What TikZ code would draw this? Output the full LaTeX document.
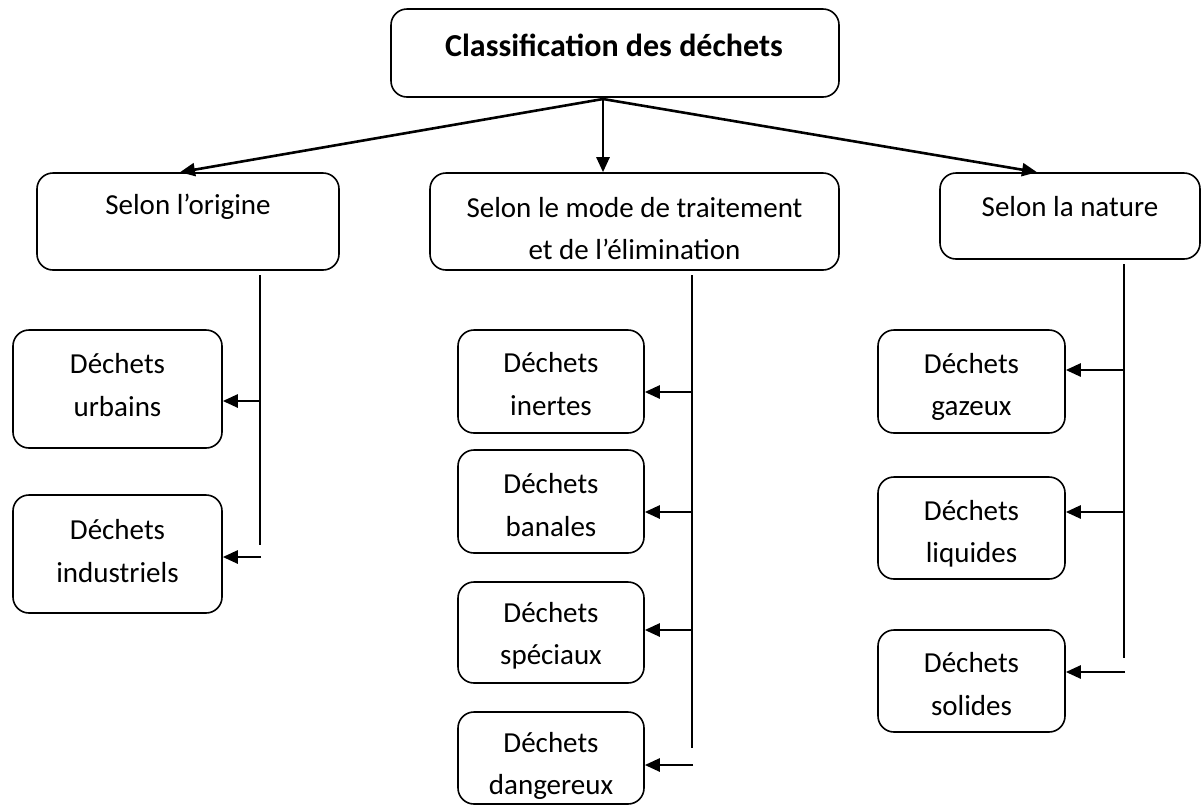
\documentclass[tikz,border=0pt]{standalone}
\usepackage{fontspec}
\setmainfont{Carlito}
\usetikzlibrary{arrows.meta}
\begin{document}
\begin{tikzpicture}[x=1pt,y=-1pt,
  box/.style={draw, line width=1.6pt, rounded corners=16pt, inner sep=0pt},
  txt/.style={align=center, font=\fontsize{29}{42.5}\selectfont, inner sep=0pt},
  arr/.style={line width=2.6pt, -{Triangle[length=15pt,width=13pt]}},
  vline/.style={line width=1.6pt}]
\useasboundingbox (0,0) rectangle (1202,807);

% top level
\node[box, minimum width=448pt, minimum height=88pt] (top) at (615,53) {};
\node[txt, font=\fontsize{32}{38}\selectfont\bfseries] (ttl) at (614,45) {Classification des déchets};

% second level
\node[box, minimum width=302pt, minimum height=97pt] (l1) at (188,221.5) {};
\node[txt] (t1) at (188,207) {Selon l’origine};
\node[box, minimum width=409pt, minimum height=97pt] (l2) at (634.5,221.5) {};
\node[txt] (t2) at (634.5,228.5) {Selon le mode de traitement\\et de l’élimination};
\node[box, minimum width=260pt, minimum height=86pt] (l3) at (1070,216) {};
\node[txt] (t3) at (1070,207) {Selon la nature};

% top arrows
\coordinate (o) at (603,99);
\coordinate (xl) at (180,0);
\coordinate (xr) at (1037,0);
\draw[arr] (o) -- (l1.north -| xl);
\draw[arr] (o) -- (l2.north -| o);
\draw[arr] (o) -- (l3.north -| xr);

% left column
\node[box, minimum width=209pt, minimum height=118pt] (u) at (117.5,389) {};
\node[txt] (tu) at (117.5,385) {Déchets\\urbains};
\node[box, minimum width=209pt, minimum height=118pt] (ind) at (117.5,554) {};
\node[txt] (tind) at (117.5,551) {Déchets\\industriels};
\coordinate (v1a) at (260,275);
\coordinate (v1b) at (260,545);
\draw[vline] (v1a) -- (v1b);
\coordinate (a11) at (260,401);
\coordinate (a12) at (261,557);
\draw[arr] (a11) -- (a11 -| u.east);
\draw[arr] (a12) -- (a12 -| ind.east);

% middle column
\node[box, minimum width=186pt, minimum height=103pt] (ine) at (551,381.5) {};
\node[txt] (tine) at (551,384) {Déchets\\inertes};
\node[box, minimum width=186pt, minimum height=103pt] (ban) at (551,501.5) {};
\node[txt] (tban) at (551,505) {Déchets\\banales};
\node[box, minimum width=186pt, minimum height=101pt] (spe) at (551,632.5) {};
\node[txt] (tspe) at (551,636) {Déchets\\spéciaux};
\node[box, minimum width=186pt, minimum height=92pt] (dan) at (551,758) {};
\node[txt] (tdan) at (551,766) {Déchets\\dangereux};
\coordinate (v2a) at (692,275);
\coordinate (v2b) at (692,748);
\draw[vline] (v2a) -- (v2b);
\coordinate (a21) at (692,392);
\coordinate (a22) at (692,512);
\coordinate (a23) at (692,630);
\coordinate (a24) at (693,765);
\draw[arr] (a21) -- (a21 -| ine.east);
\draw[arr] (a22) -- (a22 -| ban.east);
\draw[arr] (a23) -- (a23 -| spe.east);
\draw[arr] (a24) -- (a24 -| dan.east);

% right column
\node[box, minimum width=187pt, minimum height=103pt] (gaz) at (971.5,381.5) {};
\node[txt] (tgaz) at (971.5,387) {Déchets\\gazeux};
\node[box, minimum width=187pt, minimum height=102pt] (liq) at (971.5,528) {};
\node[txt] (tliq) at (971.5,534) {Déchets\\liquides};
\node[box, minimum width=187pt, minimum height=102pt] (sol) at (971.5,681) {};
\node[txt] (tsol) at (971.5,684) {Déchets\\solides};
\coordinate (v3a) at (1124,264);
\coordinate (v3b) at (1124,658);
\draw[vline] (v3a) -- (v3b);
\coordinate (a31) at (1124,370);
\coordinate (a32) at (1124,512);
\coordinate (a33) at (1125,672);
\draw[arr] (a31) -- (a31 -| gaz.east);
\draw[arr] (a32) -- (a32 -| liq.east);
\draw[arr] (a33) -- (a33 -| sol.east);
\end{tikzpicture}
\end{document}
